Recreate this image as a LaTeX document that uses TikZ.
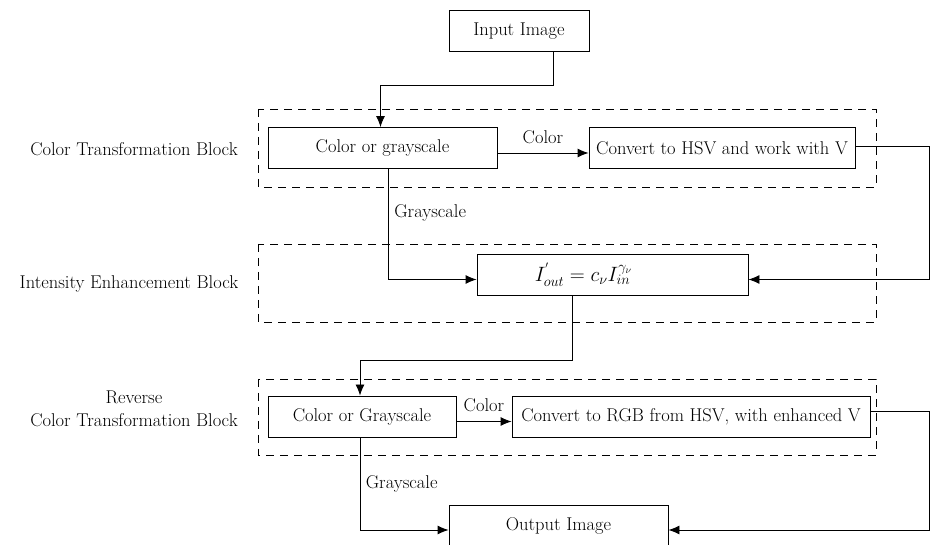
\documentclass[tikz,border=0pt]{standalone}
\usetikzlibrary{arrows.meta}
\begin{document}
\begin{tikzpicture}[x=1pt,y=-1pt,
  font=\fontsize{18.5}{22.5}\selectfont,
  box/.style={draw,line width=0.9pt,minimum height=41pt,inner sep=2pt},
  blk/.style={draw,line width=0.9pt,dash pattern=on 8pt off 6pt},
  arr/.style={line width=0.9pt,-{Latex[length=11pt,width=9pt]}},
  lbl/.style={align=center,inner sep=0pt},
  edgelbl/.style={above=8pt,inner sep=1pt}]
\useasboundingbox (0,0) rectangle (930,545);
% dashed blocks
\draw[blk] (258,109) rectangle (876,187);
\draw[blk] (258,244) rectangle (876,322);
\draw[blk] (258,379) rectangle (876,455);
% block labels
\node[lbl] (l1) at (134,149) {Color Transformation Block};
\node[lbl] (l2) at (129,284) {Intensity Enhancement Block};
\node[lbl] (l3) at (134,409) {Reverse\\Color Transformation Block};
% nodes
\node[box,minimum width=140pt] (in) at (519,31) {Input Image};
\node[box,minimum width=229pt] (cg) at (382.5,148) {Color or grayscale};
\node[box,minimum width=266pt] (hsv) at (722,148) {Convert to HSV and work with V};
\node[box,minimum width=271pt] (form) at (612.5,274.5) {\fontsize{20.5}{24}\selectfont$I^{'}_{out}=c_\nu I_{in}^{\gamma_\nu}$\hspace*{58pt}};
\node[box,minimum width=188pt] (cg2) at (362,416.5) {Color or Grayscale};
\node[box,minimum width=358pt] (rgb) at (691,416.5) {Convert to RGB from HSV, with enhanced V};
\node[box,minimum width=219pt] (out) at (558.5,526) {Output Image};
\coordinate (r1) at (929,0);
\coordinate (r2) at (929,0);
% connectors
\draw[arr] ([xshift=34pt]in.south) -- ++(0,34) -| ([xshift=-2pt]cg.north);
\draw[arr] ([yshift=-5pt]cg.east) -- node[edgelbl] {Color} ([yshift=-5pt]hsv.west);
\draw[arr] ([yshift=2pt]hsv.east) -| ([yshift=-5pt]form.east -| r1) -- ([yshift=-5pt]form.east);
\draw[arr] ([xshift=6pt]cg.south) |- node[pos=0.2,right=2pt] {Grayscale} ([yshift=-5pt]form.west);
\draw[arr] ([xshift=-40pt]form.south) -- ++(0,65) -| ([xshift=-2pt]cg2.north);
\draw[arr] ([yshift=-5pt]cg2.east) -- node[edgelbl] {Color} ([yshift=-5pt]rgb.west);
\draw[arr] ([yshift=5pt]rgb.east) -| ([yshift=-4pt]out.east -| r2) -- ([yshift=-4pt]out.east);
\draw[arr] ([xshift=-2pt]cg2.south) |- node[pos=0.25,right=2pt] {Grayscale} ([yshift=-4pt]out.west);
\end{tikzpicture}
\end{document}
